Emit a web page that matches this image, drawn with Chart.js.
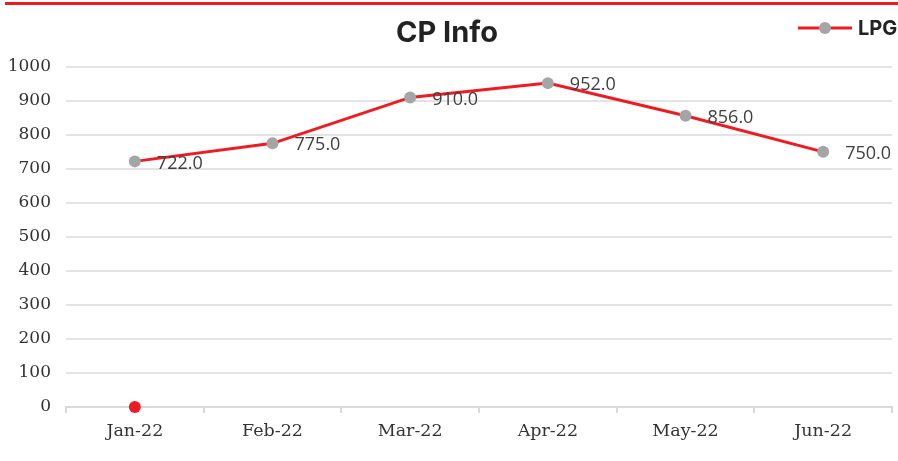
<!DOCTYPE html>
<html><head><meta charset="utf-8">
<script src="https://cdn.jsdelivr.net/npm/chart.js@4.4.0/dist/chart.umd.min.js"></script>
<style>html,body{margin:0;padding:0;background:#fff;}#wrap{width:898px;height:461px;position:relative;}</style>
</head><body><div id="wrap"><canvas id="c" width="898" height="461"></canvas></div>
<script>
const categories = ['Jan-22','Feb-22','Mar-22','Apr-22','May-22','Jun-22'];
const lpgValues = [722, 775, 910, 952, 856, 750];
const markerValues = [0, null, null, null, null, null];
const yTicks = [0,100,200,300,400,500,600,700,800,900,1000];

const RED = '#ed1c24', GRAY = '#a5a5a5';

const extras = {
  id: 'extras',
  afterDraw(chart) {
    const ctx = chart.ctx;
    ctx.save();
    ctx.fillStyle = RED;
    ctx.fillRect(5, 2, 893, 3);
    const meta = chart.getDatasetMeta(0);
    ctx.font = '18px "Open Sans"';
    ctx.fillStyle = '#404040';
    ctx.textBaseline = 'middle';
    ctx.textAlign = 'left';
    meta.data.forEach((pt, i) => {
      ctx.fillText(lpgValues[i].toFixed(1), pt.x + 22, pt.y + 2);
    });
    const ly = 28;
    ctx.strokeStyle = RED; ctx.lineWidth = 3;
    ctx.beginPath(); ctx.moveTo(798, ly); ctx.lineTo(852, ly); ctx.stroke();
    ctx.fillStyle = GRAY;
    ctx.beginPath(); ctx.arc(825, ly, 6, 0, Math.PI*2); ctx.fill();
    ctx.fillStyle = '#222';
    ctx.font = 'bold 20px Inter';
    ctx.fillText(chart.data.datasets[0].label, 858, ly + 1);
    ctx.restore();
  }
};

new Chart(document.getElementById('c'), {
  type: 'line',
  data: {
    labels: categories,
    datasets: [
      { label: 'LPG', data: lpgValues, borderColor: RED, borderWidth: 3, pointBackgroundColor: GRAY,
        pointBorderWidth: 0, pointRadius: 6, tension: 0, clip: false },
      { label: 'marker', data: markerValues, borderColor: RED, pointBackgroundColor: RED,
        pointBorderWidth: 0, pointRadius: 6, showLine: false, clip: false }
    ]
  },
  options: {
    responsive: false,
    animation: false,
    layout: { padding: { top: 0, right: 4, left: 0, bottom: 0 } },
    plugins: {
      legend: { display: false },
      tooltip: { enabled: false },
      title: { display: true, text: 'CP Info', color: '#222',
        font: { family: 'Inter', weight: 'bold', size: 29 }, padding: { top: 16, bottom: 16 } }
    },
    scales: {
      x: {
        offset: true,
        grid: { offset: true, drawOnChartArea: false, tickLength: 6, color: '#d9d9d9', lineWidth: 2 },
        border: { display: true, color: '#d9d9d9', width: 2 },
        ticks: { color: '#333', font: { family: 'DejaVu Serif', size: 17.5 }, padding: 8 },
        afterFit(s) { s.height = 54; }
      },
      y: {
        min: 0, max: 1000,
        afterBuildTicks(s) { s.ticks = yTicks.map(v => ({ value: v })); },
        grid: { color: '#e3e3e3', lineWidth: 2, drawTicks: false },
        border: { display: false },
        ticks: { color: '#333', font: { family: 'DejaVu Serif', size: 17 }, padding: 15,
          callback: v => String(v) },
        afterFit(s) { s.width = 66; }
      }
    }
  },
  plugins: [extras]
});
</script></body></html>
